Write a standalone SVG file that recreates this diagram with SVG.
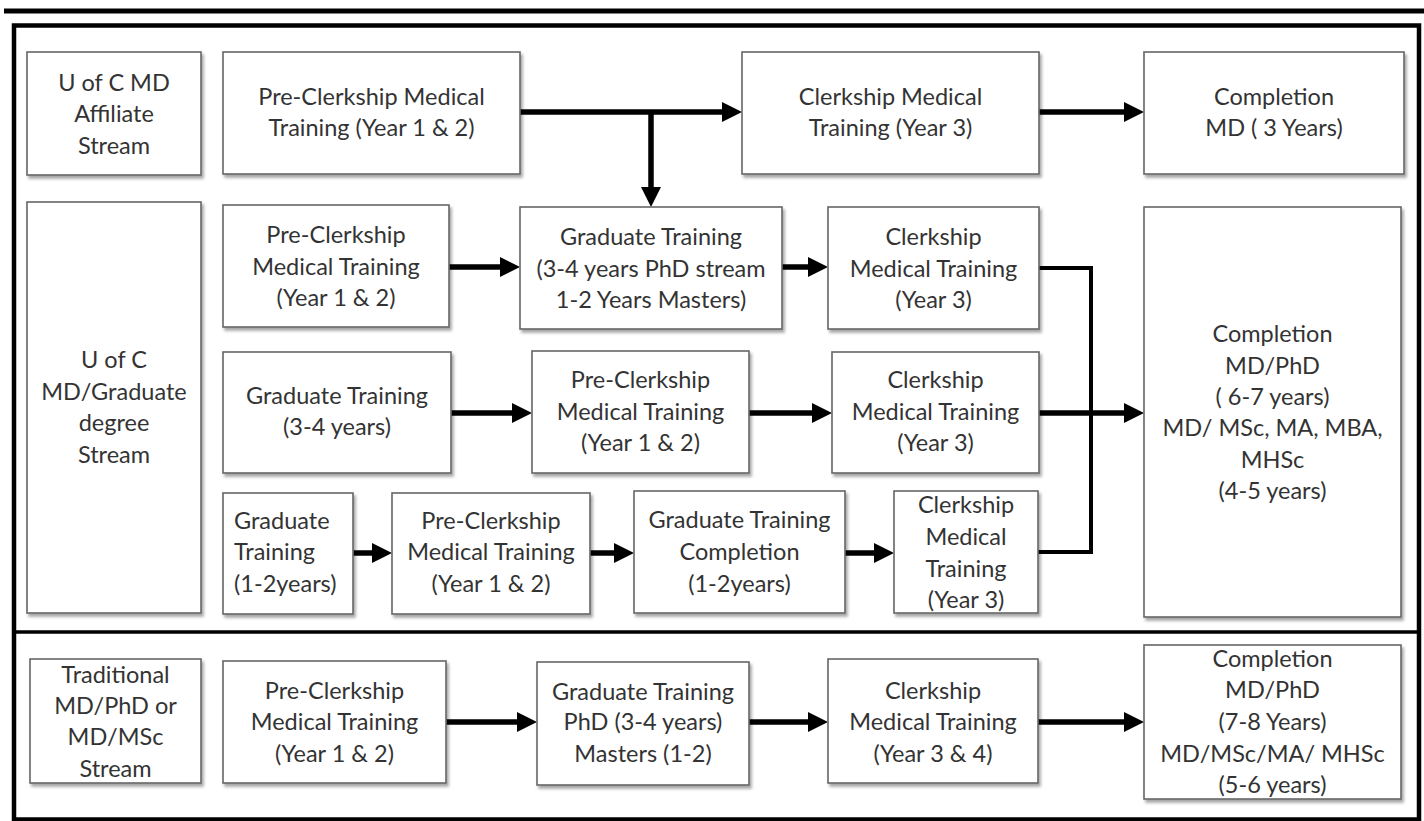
<svg xmlns="http://www.w3.org/2000/svg" width="1424" height="821" viewBox="0 0 1424 821">
<style>
.box{fill:#fff;stroke:#666;stroke-width:1.6;filter:url(#sh)}
.t{font-family:Lato,"Open Sans","Liberation Sans",sans-serif;font-size:23.5px;fill:#333;text-anchor:middle}
.tl{text-anchor:start}
.ar{stroke:#000;stroke-width:5.5;fill:none;marker-end:url(#ah)}
.el{stroke:#000;stroke-width:4;fill:none}
.frame{fill:none;stroke:#000}
</style>
<defs>
<filter id="sh" x="-10%" y="-10%" width="130%" height="130%">
<feDropShadow dx="2" dy="3" stdDeviation="1.5" flood-color="#000" flood-opacity="0.35"/>
</filter>
<marker id="ah" markerUnits="userSpaceOnUse" markerWidth="20" markerHeight="20" refX="8" refY="10" orient="auto">
<path d="M0,0 L20,10 L0,20 z" fill="#000"/>
</marker>
</defs>
<rect width="1424" height="821" fill="#fff"/>
<line x1="4" y1="11" x2="1424" y2="11" stroke="#000" stroke-width="5"/>
<rect class="frame" x="14" y="25.5" width="1405" height="794" stroke-width="4.5"/>
<line x1="14" y1="632" x2="1419" y2="632" stroke="#000" stroke-width="3.5"/>

<g id="connectors">
<line class="ar" x1="520" y1="112" x2="730" y2="112"/>
<line class="ar" x1="651" y1="112" x2="651" y2="195"/>
<line class="ar" x1="1039" y1="112" x2="1132" y2="112"/>
<line class="ar" x1="449" y1="267" x2="508" y2="267"/>
<line class="ar" x1="782" y1="267" x2="816" y2="267"/>
<polyline class="el" points="1039,268 1091,268 1091,552 1038,552"/>
<line class="ar" x1="451" y1="413" x2="520" y2="413"/>
<line class="ar" x1="749" y1="413" x2="820" y2="413"/>
<line class="ar" x1="1039" y1="413" x2="1132" y2="413"/>
<line class="ar" x1="353" y1="553" x2="380" y2="553"/>
<line class="ar" x1="590" y1="553" x2="622" y2="553"/>
<line class="ar" x1="845" y1="553" x2="882" y2="553"/>
<line class="ar" x1="446" y1="722" x2="525" y2="722"/>
<line class="ar" x1="749" y1="722" x2="816" y2="722"/>
<line class="ar" x1="1038" y1="722" x2="1132" y2="722"/>
</g>

<g id="a1"><rect class="box" x="27" y="52" width="174" height="123"/>
<text class="t"><tspan x="114" y="91">U of C MD</tspan><tspan x="114" y="122">Affiliate</tspan><tspan x="114" y="154">Stream</tspan></text></g>
<g id="a2"><rect class="box" x="223" y="52" width="297" height="122"/>
<text class="t"><tspan x="371.5" y="105">Pre-Clerkship Medical</tspan><tspan x="371.5" y="136">Training (Year 1 &amp; 2)</tspan></text></g>
<g id="a3"><rect class="box" x="742" y="52" width="297" height="122"/>
<text class="t"><tspan x="890.5" y="105">Clerkship Medical</tspan><tspan x="890.5" y="136">Training (Year 3)</tspan></text></g>
<g id="a4"><rect class="box" x="1144" y="52" width="260" height="122"/>
<text class="t"><tspan x="1274" y="105">Completion</tspan><tspan x="1274" y="136">MD ( 3 Years)</tspan></text></g>

<g id="b0"><rect class="box" x="27" y="202" width="174" height="411"/>
<text class="t"><tspan x="114" y="368">U of C</tspan><tspan x="114" y="400">MD/Graduate</tspan><tspan x="114" y="431">degree</tspan><tspan x="114" y="463">Stream</tspan></text></g>
<g id="b1"><rect class="box" x="223" y="205" width="226" height="122"/>
<text class="t"><tspan x="336" y="243">Pre-Clerkship</tspan><tspan x="336" y="275">Medical Training</tspan><tspan x="336" y="306">(Year 1 &amp; 2)</tspan></text></g>
<g id="b2"><rect class="box" x="520" y="207" width="262" height="122"/>
<text class="t"><tspan x="651" y="245">Graduate Training</tspan><tspan x="651" y="277">(3-4 years PhD stream</tspan><tspan x="651" y="308">1-2 Years Masters)</tspan></text></g>
<g id="b3"><rect class="box" x="828" y="207" width="211" height="122"/>
<text class="t"><tspan x="933.5" y="245">Clerkship</tspan><tspan x="933.5" y="277">Medical Training</tspan><tspan x="933.5" y="308">(Year 3)</tspan></text></g>
<g id="bc"><rect class="box" x="1144" y="207" width="257" height="410"/>
<text class="t"><tspan x="1272.5" y="342">Completion</tspan><tspan x="1272.5" y="374">MD/PhD</tspan><tspan x="1272.5" y="405">( 6-7 years)</tspan><tspan x="1272.5" y="436">MD/ MSc, MA, MBA,</tspan><tspan x="1272.5" y="468">MHSc</tspan><tspan x="1272.5" y="499">(4-5 years)</tspan></text></g>

<g id="c1"><rect class="box" x="223" y="352" width="228" height="121"/>
<text class="t"><tspan x="337" y="404">Graduate Training</tspan><tspan x="337" y="435">(3-4 years)</tspan></text></g>
<g id="c2"><rect class="box" x="532" y="351" width="217" height="122"/>
<text class="t"><tspan x="640.5" y="388">Pre-Clerkship</tspan><tspan x="640.5" y="420">Medical Training</tspan><tspan x="640.5" y="451">(Year 1 &amp; 2)</tspan></text></g>
<g id="c3"><rect class="box" x="832" y="352" width="207" height="121"/>
<text class="t"><tspan x="935.5" y="388">Clerkship</tspan><tspan x="935.5" y="420">Medical Training</tspan><tspan x="935.5" y="451">(Year 3)</tspan></text></g>

<g id="d1"><rect class="box" x="223" y="493" width="130" height="121"/>
<text class="t tl"><tspan x="234" y="529">Graduate</tspan><tspan x="234" y="560">Training</tspan><tspan x="234" y="592">(1-2years)</tspan></text></g>
<g id="d2"><rect class="box" x="392" y="493" width="198" height="121"/>
<text class="t"><tspan x="491" y="529">Pre-Clerkship</tspan><tspan x="491" y="560">Medical Training</tspan><tspan x="491" y="592">(Year 1 &amp; 2)</tspan></text></g>
<g id="d3"><rect class="box" x="634" y="491" width="211" height="122"/>
<text class="t"><tspan x="739.5" y="528">Graduate Training</tspan><tspan x="739.5" y="560">Completion</tspan><tspan x="739.5" y="592">(1-2years)</tspan></text></g>
<g id="d4"><rect class="box" x="894" y="491" width="144" height="122"/>
<text class="t"><tspan x="966" y="513">Clerkship</tspan><tspan x="966" y="545">Medical</tspan><tspan x="966" y="577">Training</tspan><tspan x="966" y="608">(Year 3)</tspan></text></g>

<g id="e0"><rect class="box" x="30" y="659" width="171" height="124"/>
<text class="t"><tspan x="115.5" y="683">Traditional</tspan><tspan x="115.5" y="714">MD/PhD or</tspan><tspan x="115.5" y="745">MD/MSc</tspan><tspan x="115.5" y="777">Stream</tspan></text></g>
<g id="e1"><rect class="box" x="223" y="661" width="223" height="122"/>
<text class="t"><tspan x="334.5" y="699">Pre-Clerkship</tspan><tspan x="334.5" y="730">Medical Training</tspan><tspan x="334.5" y="762">(Year 1 &amp; 2)</tspan></text></g>
<g id="e2"><rect class="box" x="537" y="662" width="212" height="123"/>
<text class="t"><tspan x="643" y="700">Graduate Training</tspan><tspan x="643" y="730">PhD (3-4 years)</tspan><tspan x="643" y="762">Masters (1-2)</tspan></text></g>
<g id="e3"><rect class="box" x="828" y="659" width="210" height="124"/>
<text class="t"><tspan x="933" y="699">Clerkship</tspan><tspan x="933" y="730">Medical Training</tspan><tspan x="933" y="762">(Year 3 &amp; 4)</tspan></text></g>
<g id="e4"><rect class="box" x="1144" y="645" width="257" height="154"/>
<text class="t"><tspan x="1272.5" y="667">Completion</tspan><tspan x="1272.5" y="698">MD/PhD</tspan><tspan x="1272.5" y="730">(7-8 Years)</tspan><tspan x="1272.5" y="762">MD/MSc/MA/ MHSc</tspan><tspan x="1272.5" y="793">(5-6 years)</tspan></text></g>
</svg>
